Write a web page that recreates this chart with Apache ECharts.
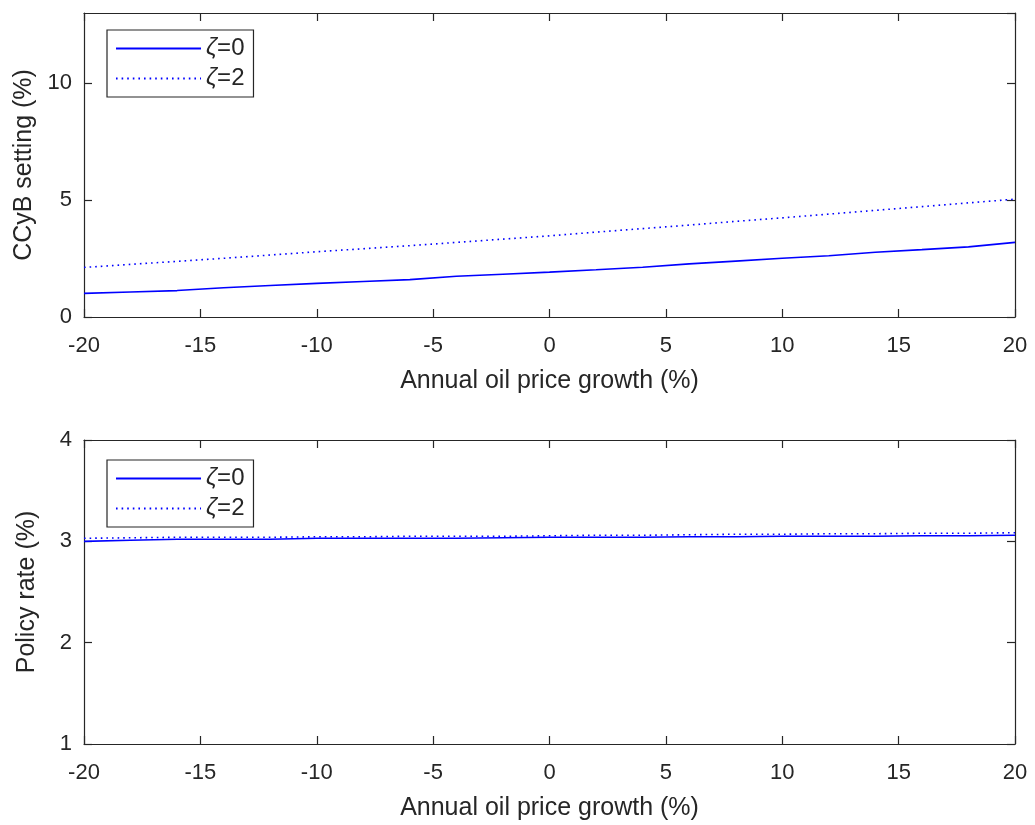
<!DOCTYPE html>
<html><head><meta charset="utf-8">
<script src="https://cdn.jsdelivr.net/npm/echarts@6/dist/echarts.min.js"></script>
<style>html,body{margin:0;padding:0;background:#fff}#c{width:1035px;height:825px}</style>
</head><body><div id="c"></div>
<script>
const xVals = [-20,-18,-16,-14,-12,-10,-8,-6,-4,-2,0,2,4,6,8,10,12,14,16,18,20];
const ccyb0 = [1.01,1.07,1.13,1.25,1.35,1.44,1.52,1.60,1.74,1.83,1.92,2.02,2.13,2.27,2.39,2.51,2.62,2.77,2.88,3.00,3.19];
const ccyb2 = [2.12,2.25,2.38,2.51,2.65,2.79,2.92,3.05,3.19,3.33,3.47,3.63,3.78,3.93,4.09,4.24,4.40,4.56,4.72,4.88,5.04];
const rate0 = [3.00,3.01,3.02,3.02,3.02,3.03,3.03,3.03,3.03,3.035,3.04,3.04,3.04,3.045,3.045,3.05,3.05,3.05,3.055,3.055,3.06];
const rate2 = [3.03,3.035,3.04,3.04,3.04,3.045,3.045,3.05,3.05,3.05,3.055,3.06,3.06,3.065,3.07,3.07,3.075,3.075,3.08,3.08,3.085];
const seriesNames = ['ζ=0','ζ=2'];
const xTitle = 'Annual oil price growth (%)';
const yTitles = ['CCyB setting (%)','Policy rate (%)'];

const FONT = '"Liberation Sans", Arial, Helvetica, sans-serif';
const AX = '#262626';
const BLUE = '#0000ff';
const TICKFS = 22, LABFS = 25;
const pairs = (ys) => xVals.map((x,i)=>[x, ys[i]]);

function xAxes(g){
  const base = {gridIndex:g, type:'value', min:-20, max:20, interval:5,
    axisLine:{show:true,onZero:false,lineStyle:{color:AX,width:1.2}},
    axisTick:{show:true,inside:true,length:8,lineStyle:{color:AX,width:1.2}},
    splitLine:{show:false}};
  return [
    Object.assign({}, base, {position:'bottom',
      axisLabel:{color:AX,fontSize:TICKFS,fontFamily:FONT,margin:18},
      name:xTitle,nameLocation:'middle',nameGap:52,
      nameTextStyle:{color:AX,fontSize:LABFS,fontFamily:FONT}}),
    Object.assign({}, base, {position:'top', axisLabel:{show:false}})
  ];
}
function yAxes(g,min,max,interval,title){
  const base = {gridIndex:g, type:'value', min:min, max:max, interval:interval,
    axisLine:{show:true,onZero:false,lineStyle:{color:AX,width:1.2}},
    axisTick:{show:true,inside:true,length:8,lineStyle:{color:AX,width:1.2}},
    splitLine:{show:false}};
  return [
    Object.assign({}, base, {position:'left',
      axisLabel:{color:AX,fontSize:TICKFS,fontFamily:FONT,margin:12,showMaxLabel:(max%interval===0)},
      name:title,nameLocation:'middle',nameGap:44,
      nameTextStyle:{color:AX,fontSize:LABFS,fontFamily:FONT}}),
    Object.assign({}, base, {position:'right', axisLabel:{show:false}})
  ];
}
function legendFor(top){
  return {top:top, left:107, orient:'vertical', data:seriesNames.map(n=>({name:n})),
    borderColor:AX, borderWidth:1.2, padding:[6,9,6,8], itemGap:5,
    itemWidth:85, itemHeight:14, backgroundColor:'#fff',
    itemStyle:{opacity:0},
    formatter: n => '{z|ζ}' + n.slice(1),
    textStyle:{color:AX,fontSize:24,fontFamily:FONT,lineHeight:25,
      rich:{z:{fontStyle:'italic',fontSize:24,fontFamily:FONT,color:AX}}}};
}
function lineSeries(name, xi, yi, ys, type){
  return {name:name, type:'line', xAxisIndex:xi, yAxisIndex:yi, data:pairs(ys),
    symbol:'none', showSymbol:false, silent:true, animation:false,
    lineStyle:{color:BLUE,width:1.6,type:type}, itemStyle:{color:BLUE}};
}

const chart = echarts.init(document.getElementById('c'));
const opt = {
  backgroundColor:'#fff',
  animation:false,
  grid:[
    {left:84,right:20,top:13,height:304},
    {left:84,right:20,top:440,height:304}
  ],
  xAxis:[...xAxes(0), ...xAxes(1)],
  yAxis:[...yAxes(0,0,13,5,yTitles[0]), ...yAxes(1,1,4,1,yTitles[1])],
  legend:[legendFor(30), legendFor(460)],
  series:[
    lineSeries(seriesNames[0],0,0,ccyb0,'solid'),
    lineSeries(seriesNames[1],0,0,ccyb2,[1.6,4]),
    lineSeries(seriesNames[0],2,2,rate0,'solid'),
    lineSeries(seriesNames[1],2,2,rate2,[1.6,4])
  ]
};
chart.setOption(opt);
</script></body></html>
